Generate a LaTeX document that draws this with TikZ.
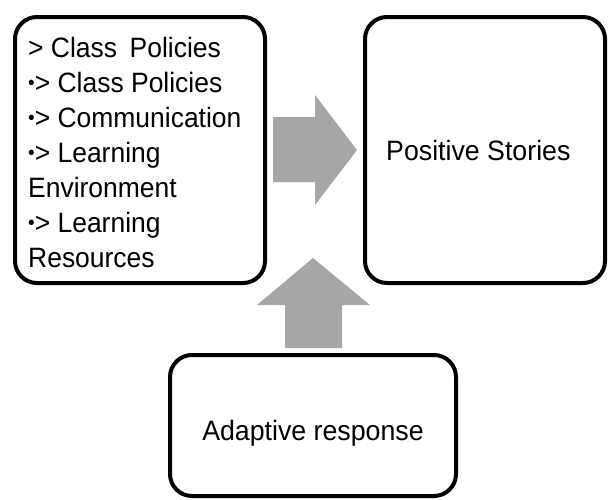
\documentclass[tikz,border=0pt]{standalone}
\usepackage{fontspec}
\setmainfont{Liberation Sans}
\newfontfamily\listfont[FakeStretch=0.945]{Liberation Sans}
\newfontfamily\labelfont[FakeStretch=0.955]{Liberation Sans}
% small raised bullet in front of each list entry
\newcommand{\lbul}{\raisebox{2.6pt}{\fontsize{20}{20}\selectfont •}}
\begin{document}
\begin{tikzpicture}[x=1pt,y=-1pt,
  roundbox/.style={draw=black,line width=4pt,rounded corners=22pt,fill=white},
  blockarrow/.style={fill=arrowgray,draw=none},
  listtext/.style={font=\listfont\fontsize{28}{35}\selectfont,align=left,inner sep=0pt,anchor=north west},
  boxtext/.style={font=\labelfont\fontsize{28}{32}\selectfont,inner sep=0pt}]
\definecolor{arrowgray}{RGB}{166,166,166}
\useasboundingbox (0,0) rectangle (608,499);

% the three boxes
\draw[roundbox] (15,17) rectangle (265,283);
\draw[roundbox] (365,17) rectangle (605,283);
\draw[roundbox] (170,355) rectangle (456,496);

% box contents
\node[listtext] (sources) at (28,37) {> Class\hspace{0.45em}Policies\\
  \lbul> Class Policies\\
  \lbul> Communication\\
  \lbul> Learning\\
  Environment\\
  \lbul> Learning\\
  Resources};
\node[boxtext,anchor=west] (stories) at (386,150) {Positive Stories};
\node[boxtext,anchor=base] (adaptive) at (313,440) {Adaptive response};

% block arrows
\fill[blockarrow] (273,117) -- (315,117) -- (315,95) -- (357,150)
  -- (315,205) -- (315,182) -- (273,182) -- cycle;
\fill[blockarrow] (313,258) -- (370,305) -- (342,305) -- (342,348)
  -- (285,348) -- (285,305) -- (257,305) -- cycle;
\end{tikzpicture}
\end{document}
